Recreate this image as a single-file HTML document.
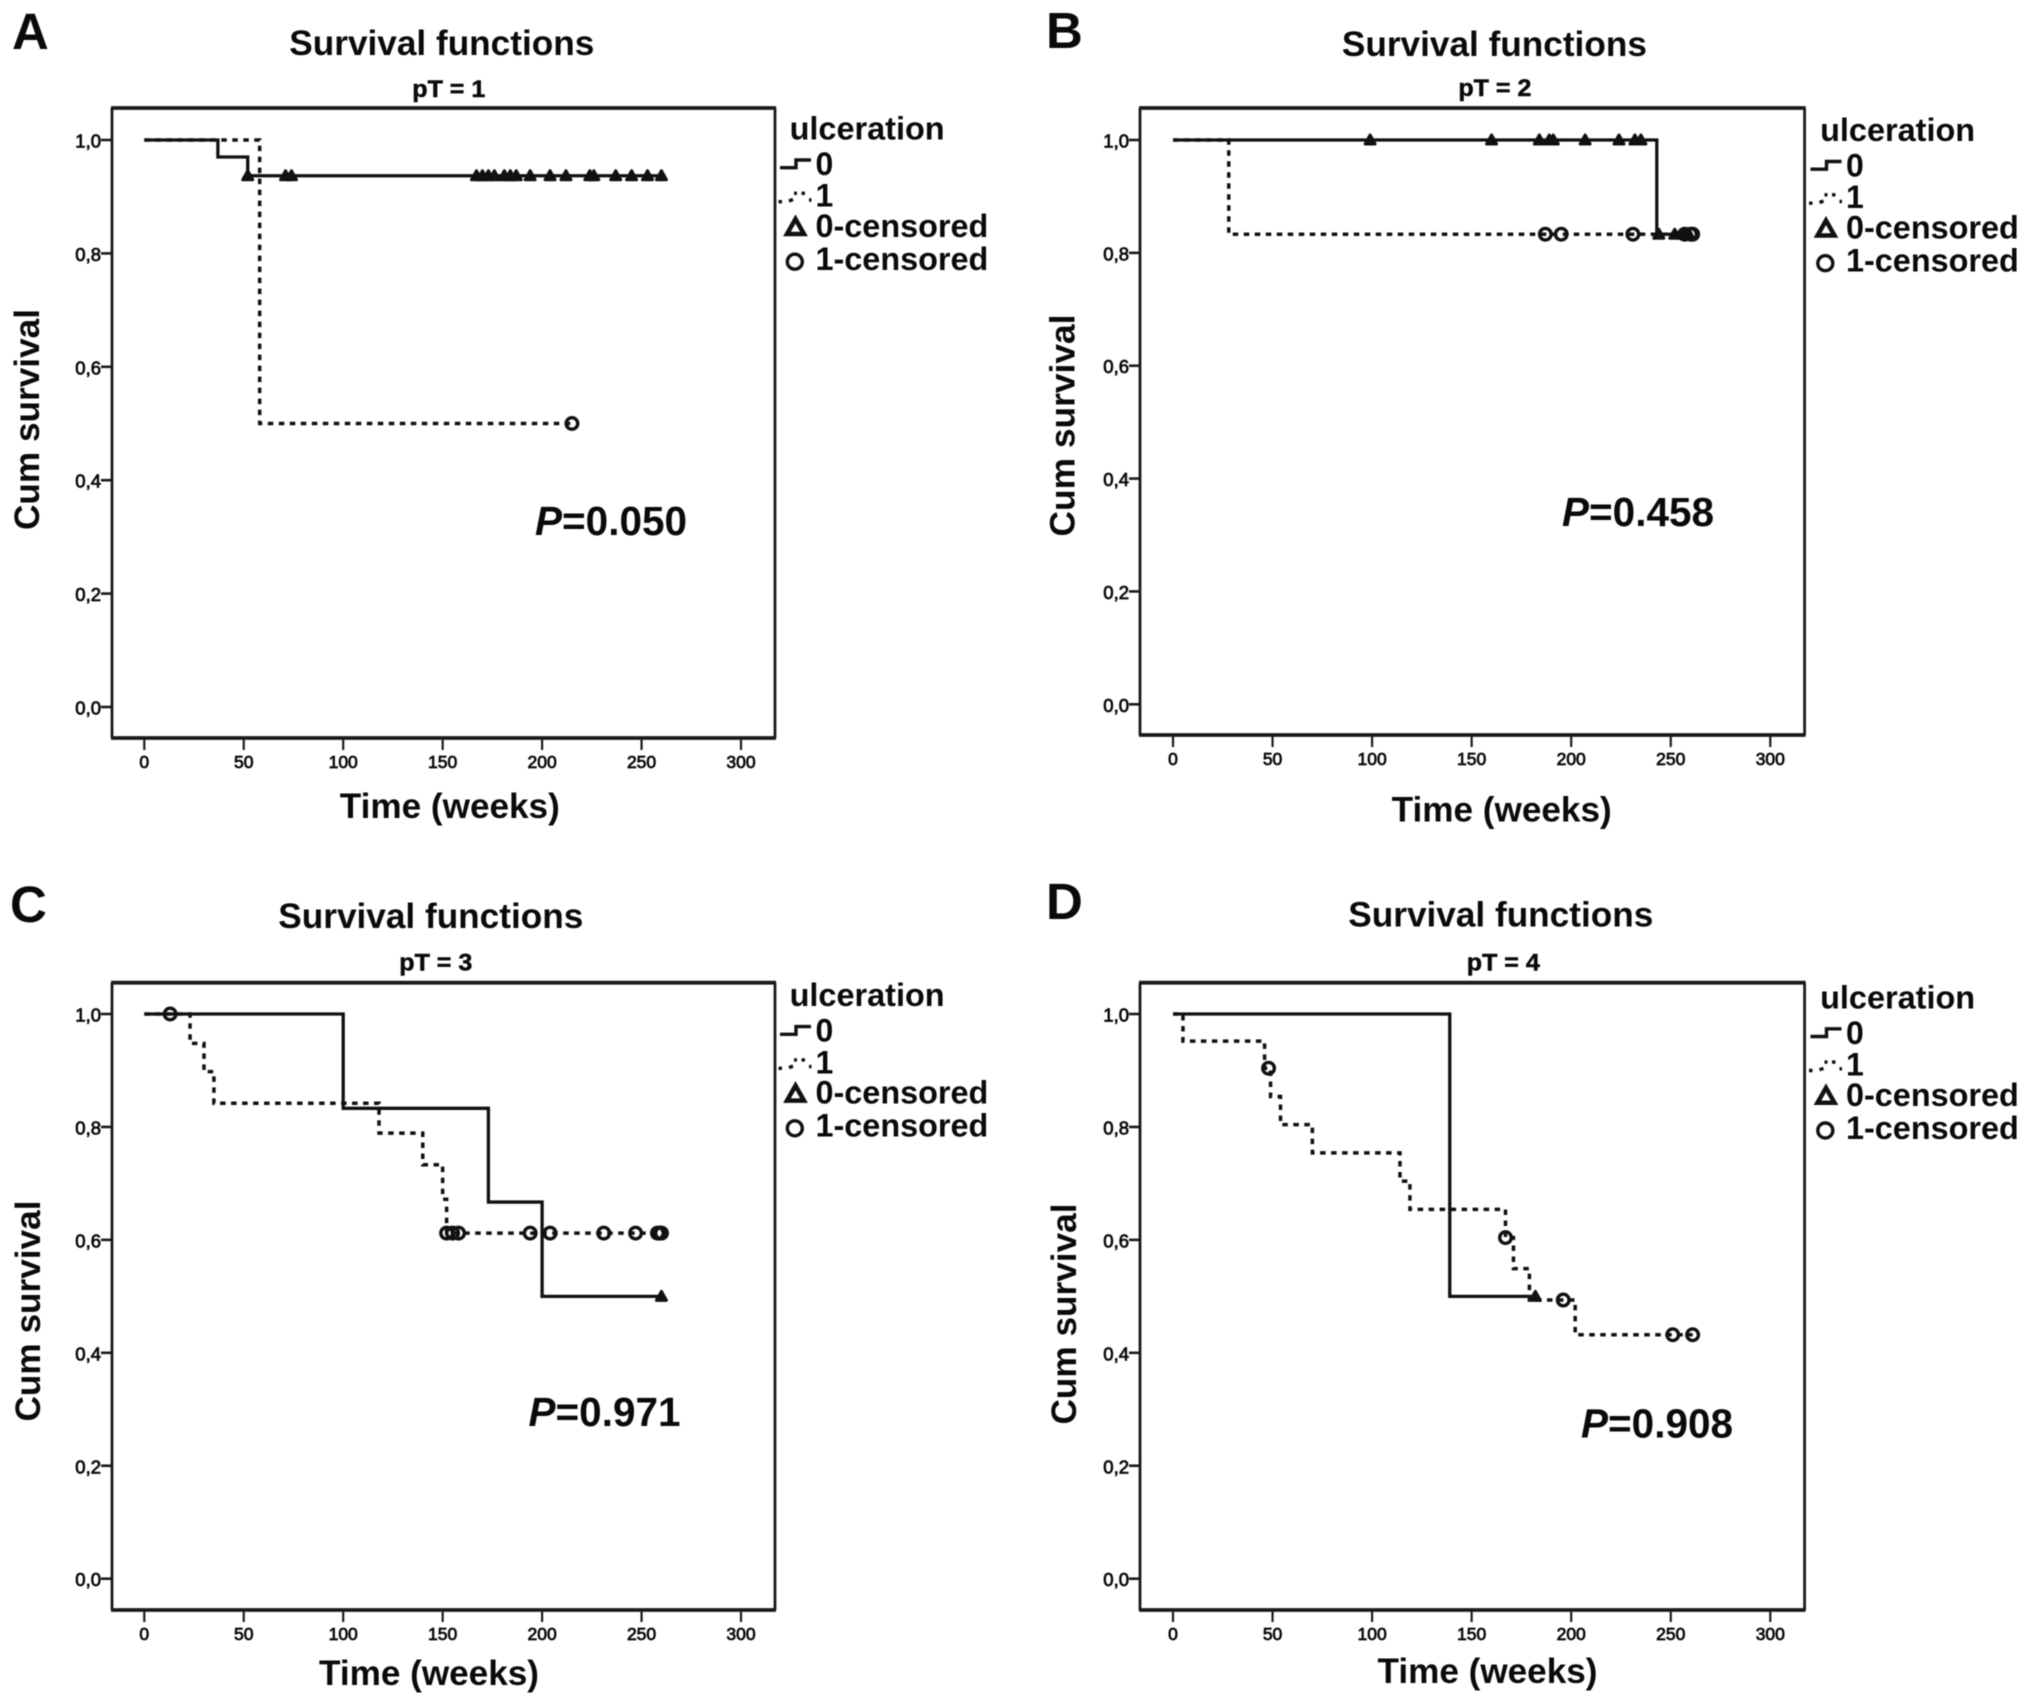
<!DOCTYPE html>
<html lang="en">
<head>
<meta charset="utf-8">
<title>Survival functions by pT stage</title>
<style>
  html, body { margin: 0; padding: 0; background: #fff; }
  svg { display: block; filter: blur(0.6px); }
  text { font-family: "Liberation Sans", Arial, sans-serif; fill: #0a0a0a; }
</style>
</head>
<body>
<svg id="figure" xmlns="http://www.w3.org/2000/svg" width="2031" height="1704" viewBox="0 0 2031 1704"></svg>
<script>
// ---- axis tick data ----
const xTickValues = [0, 50, 100, 150, 200, 250, 300];
const yTickValues = [1.0, 0.8, 0.6, 0.4, 0.2, 0.0];
const yTickLabels = ['1,0', '0,8', '0,6', '0,4', '0,2', '0,0'];

// ---- panel text ----
const panelLetters = ['A', 'B', 'C', 'D'];
const panelSubtitles = ['pT = 1', 'pT = 2', 'pT = 3', 'pT = 4'];
const panelPValues = ['=0.050', '=0.458', '=0.971', '=0.908'];

// ---- panel A (weeks, cumulative survival) ----
const aTime0 = [0, 37, 52, 261];
const aSurv0 = [1, 0.97, 0.937, 0.937];
const aTime1 = [0, 58, 215];
const aSurv1 = [1, 0.5, 0.5];
const aCensored0 = [52, 71, 74, 167, 170, 173, 176, 181, 184, 187, 194, 204, 212, 224, 226, 237, 245, 253, 260];
const aCensored1 = [215];

// ---- panel B ----
const bTime0 = [0, 243, 261];
const bSurv0 = [1, 0.833, 0.833];
const bTime1 = [0, 28, 261];
const bSurv1 = [1, 0.833, 0.833];
const bCensored0 = [99, 160, 184, 189, 191, 207, 224, 232, 235, 244, 252, 256, 259];
const bCensored1 = [187, 195, 231, 257, 260, 261];

// ---- panel C ----
const cTime0 = [0, 100, 173, 200, 260];
const cSurv0 = [1, 0.833, 0.667, 0.5, 0.5];
const cTime1 = [0, 23, 30, 35, 118, 140, 150, 152, 260];
const cSurv1 = [1, 0.948, 0.898, 0.842, 0.789, 0.733, 0.672, 0.612, 0.612];
const cCensored0 = [260];
const cCensored1 = [13, 152, 155, 158, 194, 204, 231, 247, 258, 259, 260];

// ---- panel D ----
const dTime0 = [0, 139, 182];
const dSurv0 = [1, 0.5, 0.5];
const dTime1 = [0, 5, 46, 49, 54, 70, 114, 119, 167, 171, 179, 202, 261];
const dSurv1 = [1, 0.952, 0.904, 0.854, 0.804, 0.754, 0.704, 0.654, 0.604, 0.549, 0.4935, 0.432, 0.432];
const dCensored0 = [182];
const dCensored1 = [48, 167, 196, 251, 261];

const panelData = [
  { t0: aTime0, s0: aSurv0, t1: aTime1, s1: aSurv1, c0: aCensored0, c1: aCensored1 },
  { t0: bTime0, s0: bSurv0, t1: bTime1, s1: bSurv1, c0: bCensored0, c1: bCensored1 },
  { t0: cTime0, s0: cSurv0, t1: cTime1, s1: cSurv1, c0: cCensored0, c1: cCensored1 },
  { t0: dTime0, s0: dSurv0, t1: dTime1, s1: dSurv1, c0: dCensored0, c1: dCensored1 }
];

// ---- layout (separate from the data) ----
const panelLayout = [
  { left: 112, right: 775, top: 108, bottom: 738, x0: 144.3, x300: 741, y1: 140, y0: 707,
    letter: [12, 49], title: [289.3, 55], sub: [412.3, 97], xTitle: [339.8, 818], yTitle: [38.8, 530, 221], p: [535, 535], legend: [0, 0], tickBase: 768 },
  { left: 1140, right: 1804.6, top: 108, bottom: 735, x0: 1173, x300: 1770.3, y1: 140, y0: 704.3,
    letter: [1046, 48], title: [1341.9, 56], sub: [1458.4, 96], xTitle: [1391.7, 821.7], yTitle: [1074.5, 536.5, 222], p: [1562, 526], legend: [1030.5, 1.5], tickBase: 765 },
  { left: 112, right: 775, top: 982.7, bottom: 1610, x0: 144.3, x300: 741, y1: 1014, y0: 1578.7,
    letter: [10, 922], title: [278.3, 928], sub: [399.3, 970.7], xTitle: [319, 1685], yTitle: [40, 1421.5, 221], p: [528.5, 1426], legend: [0, 866.6], tickBase: 1640 },
  { left: 1140, right: 1804.6, top: 982.7, bottom: 1610, x0: 1173, x300: 1770.3, y1: 1014, y0: 1578.7,
    letter: [1046, 919], title: [1348.3, 926.7], sub: [1466.8, 970.7], xTitle: [1377.5, 1683], yTitle: [1075.8, 1424.5, 221], p: [1581, 1437.7], legend: [1030.5, 868.8], tickBase: 1640 }
];

const SVG_NS = 'http://www.w3.org/2000/svg';
const svgRoot = document.getElementById('figure');

function make(tag, attrs, parent, content) {
  const node = document.createElementNS(SVG_NS, tag);
  for (const key in attrs) node.setAttribute(key, attrs[key]);
  if (content !== undefined) node.textContent = content;
  parent.appendChild(node);
  return node;
}

// Value of a Kaplan-Meier step function at a given time
function stepValue(times, surv, t) {
  let value = surv[0];
  for (let i = 0; i < times.length; i++) {
    if (times[i] <= t) value = surv[i];
  }
  return value;
}

function stepPath(times, surv, xScale, yScale) {
  let d = 'M' + xScale(times[0]) + ' ' + yScale(surv[0]);
  for (let i = 1; i < times.length; i++) {
    d += ' H' + xScale(times[i]) + ' V' + yScale(surv[i]);
  }
  return d;
}

function trianglePoints(cx, cy, w, h) {
  return (cx) + ',' + (cy - h / 2) + ' ' + (cx + w / 2) + ',' + (cy + h / 2) + ' ' + (cx - w / 2) + ',' + (cy + h / 2);
}

function drawLegend(parent, dx, dy) {
  const g = make('g', { transform: 'translate(' + dx + ' ' + dy + ')' }, parent);
  
  

  const heading = make('text', { x: 789.6, y: 139.5, 'font-size': 32, 'font-weight': 'bold', textLength: 155, lengthAdjust: 'spacingAndGlyphs' }, g, 'ulceration');
  
  

  const key0 = make('path', { d: 'M780 167.7 H796 V160 H811', fill: 'none', stroke: '#111', 'stroke-width': 3.4 }, g);
  
  

  const label0 = make('text', { x: 815.5, y: 175, 'font-size': 32, 'font-weight': 'bold' }, g, '0');
  
  

  const key1 = make('path', { d: 'M778.5 201.7 H782 M789 201 L793 199.5 M794 193.3 H797 M801.5 193.3 H805 M809 200 H811.5', fill: 'none', stroke: '#111', 'stroke-width': 3.4 }, g);
  
  

  const label1 = make('text', { x: 815.5, y: 206.7, 'font-size': 32, 'font-weight': 'bold' }, g, '1');
  
  

  const tri = make('polygon', { points: trianglePoints(795.5, 226.5, 17, 15), fill: 'none', stroke: '#111', 'stroke-width': 4.5, 'stroke-linejoin': 'miter' }, g);
  
  

  const label2 = make('text', { x: 815.5, y: 237, 'font-size': 32, 'font-weight': 'bold', textLength: 172.8, lengthAdjust: 'spacingAndGlyphs' }, g, '0-censored');
  
  

  const circ = make('circle', { cx: 794.8, cy: 261.7, r: 7.5, fill: 'none', stroke: '#111', 'stroke-width': 3.4 }, g);
  
  

  const label3 = make('text', { x: 815.5, y: 270, 'font-size': 32, 'font-weight': 'bold', textLength: 172.8, lengthAdjust: 'spacingAndGlyphs' }, g, '1-censored');
  
  
}

function drawPanel(index) {
  const L = panelLayout[index];
  const D = panelData[index];
  const xScale = function (t) { return L.x0 + (L.x300 - L.x0) * t / 300; };
  const yScale = function (s) { return L.y0 + (L.y1 - L.y0) * s; };

  const g = make('g', {}, svgRoot);
  
  

  const letter = make('text', { x: L.letter[0], y: L.letter[1], 'font-size': 51, 'font-weight': 'bold' }, g, panelLetters[index]);
  
  

  const title = make('text', { x: L.title[0], y: L.title[1], 'font-size': 35, 'font-weight': 'bold', textLength: 305, lengthAdjust: 'spacingAndGlyphs' }, g, 'Survival functions');
  
  

  const sub = make('text', { x: L.sub[0], y: L.sub[1], 'font-size': 24, 'font-weight': 'bold', stroke: '#0a0a0a', 'stroke-width': 0.5, textLength: 73, lengthAdjust: 'spacingAndGlyphs' }, g, panelSubtitles[index]);
  
  

  // plot frame
  const frame = make('path', {
    d: 'M' + L.left + ' ' + L.top + ' V' + L.bottom + ' M' + L.right + ' ' + L.top + ' V' + L.bottom,
    fill: 'none', stroke: '#1a1a1a', 'stroke-width': 2.8 }, g);
  
  

  const frameTop = make('line', { x1: L.left - 1, x2: L.right + 1, y1: L.top, y2: L.top, stroke: '#1a1a1a', 'stroke-width': 3.8 }, g);
  
  

  const frameBottom = make('line', { x1: L.left - 1, x2: L.right + 1, y1: L.bottom, y2: L.bottom, stroke: '#1a1a1a', 'stroke-width': 3.8 }, g);
  
  

  // x axis
  xTickValues.forEach(function (v) {
    const tick = make('line', { x1: xScale(v), x2: xScale(v), y1: L.bottom, y2: L.bottom + 12, stroke: '#1a1a1a', 'stroke-width': 2.2 }, g);
    
    

    const lab = make('text', { x: xScale(v), y: L.tickBase, 'font-size': 17.5, 'text-anchor': 'middle', stroke: '#0a0a0a', 'stroke-width': 0.75 }, g, String(v));
    
    
  });

  // y axis
  yTickValues.forEach(function (v, i) {
    const tick = make('line', { x1: L.left - 11, x2: L.left, y1: yScale(v), y2: yScale(v), stroke: '#1a1a1a', 'stroke-width': 2.6 }, g);
    
    

    const lab = make('text', { x: L.left - 11, y: yScale(v) + 7.5, 'font-size': 18.5, 'text-anchor': 'end', stroke: '#0a0a0a', 'stroke-width': 0.75 }, g, yTickLabels[i]);
    
    
  });

  const xTitle = make('text', { x: L.xTitle[0], y: L.xTitle[1], 'font-size': 35, 'font-weight': 'bold', textLength: 220, lengthAdjust: 'spacingAndGlyphs' }, g, 'Time (weeks)');
  
  

  const yTitle = make('text', {
    transform: 'translate(' + L.yTitle[0] + ' ' + L.yTitle[1] + ') rotate(-90)',
    'font-size': 35, 'font-weight': 'bold', textLength: L.yTitle[2], lengthAdjust: 'spacingAndGlyphs' }, g, 'Cum survival');
  
  

  // survival curves
  const line1 = make('path', { d: stepPath(D.t1, D.s1, xScale, yScale), fill: 'none', stroke: '#111', 'stroke-width': 3.5, 'stroke-dasharray': '5.5 5.5' }, g);
  
  

  const line0 = make('path', { d: stepPath(D.t0, D.s0, xScale, yScale), fill: 'none', stroke: '#111', 'stroke-width': 3.3 }, g);
  
  

  // censored markers
  D.c0.forEach(function (t) {
    const cx = xScale(t);
    const cy = yScale(stepValue(D.t0, D.s0, t));
    const mark = make('polygon', { points: trianglePoints(cx, cy - 0.5, 10, 9), fill: '#111', stroke: '#111', 'stroke-width': 3, 'stroke-linejoin': 'round' }, g);
    
    
  });
  D.c1.forEach(function (t) {
    const cx = xScale(t);
    const cy = yScale(stepValue(D.t1, D.s1, t));
    const mark = make('circle', { cx: cx, cy: cy, r: 5.8, fill: 'none', stroke: '#111', 'stroke-width': 3.4 }, g);
    
    
  });

  // p value annotation
  const pText = make('text', { x: L.p[0], y: L.p[1], 'font-size': 40.5, 'font-weight': 'bold' }, g);
  
  
  make('tspan', { 'font-style': 'italic' }, pText, 'P');
  make('tspan', {}, pText, panelPValues[index]);

  drawLegend(g, L.legend[0], L.legend[1]);
}

panelLetters.forEach(function (_, i) { drawPanel(i); });
</script>
</body>
</html>
